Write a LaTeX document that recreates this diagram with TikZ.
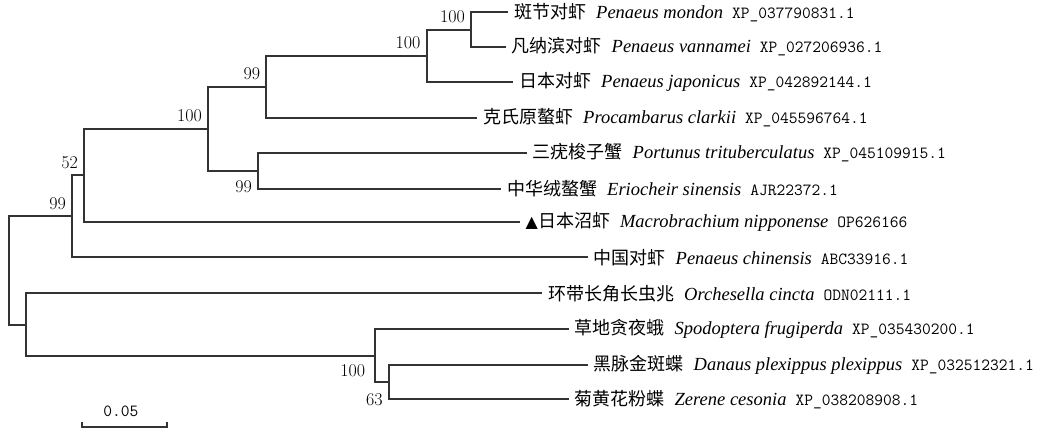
\documentclass[tikz,border=0pt]{standalone}
\usepackage{fontspec}
\usepackage{tikz}
\newfontfamily\cjkfont{Noto Sans CJK SC}
\newfontfamily\latinfont{Liberation Serif}
\newfontfamily\symbfont{DejaVu Sans}
\newcommand{\taxon}[3]{{\cjkfont\fontsize{18}{20}\selectfont #1}\hspace{10pt}%
  {\latinfont\itshape\fontsize{18.5}{20}\selectfont #2}\hspace{9pt}%
  {\ttfamily\fontsize{17}{20}\selectfont #3}}

\begin{document}
\begin{tikzpicture}[x=1pt, y=-1pt,
        branch/.style={line width=2pt, draw=black!80},
        leaf/.style={anchor=west, inner xsep=6pt, inner ysep=0pt},
        boot/.style={anchor=east, inner sep=0pt, font=\fontsize{18}{20}\selectfont},
        boot above/.style={boot, xshift=-6pt, yshift=13pt},
        boot below/.style={boot, xshift=-6pt, yshift=-15pt}]
      \useasboundingbox (0,0) rectangle (1057,429);

      % taxa
      \node[leaf] (mondon)     at (508,12.2)    {\taxon{斑节对虾}{Penaeus mondon}{XP\_037790831.1}};
      \node[leaf] (vannamei)   at (505.5,46.7)  {\taxon{凡纳滨对虾}{Penaeus vannamei}{XP\_027206936.1}};
      \node[leaf] (japonicus)  at (513,81.8)    {\taxon{日本对虾}{Penaeus japonicus}{XP\_042892144.1}};
      \node[leaf] (clarkii)    at (477,118)     {\taxon{克氏原螯虾}{Procambarus clarkii}{XP\_045596764.1}};
      \node[leaf] (portunus)   at (526.5,153)   {\taxon{三疣梭子蟹}{Portunus trituberculatus}{XP\_045109915.1}};
      \node[leaf] (eriocheir)  at (501,189.3)   {\taxon{中华绒螯蟹}{Eriocheir sinensis}{AJR22372.1}};
      \node[leaf] (macro)      at (519.5,221.8) {\taxon{{\symbfont\fontsize{16}{20}\selectfont ▲}日本沼虾}{Macrobrachium nipponense}{OP626166}};
      \node[leaf] (chinensis)  at (587.5,257.3) {\taxon{中国对虾}{Penaeus chinensis}{ABC33916.1}};
      \node[leaf] (orchesella) at (542,293.4)   {\taxon{环带长角长虫兆}{Orchesella cincta}{ODN02111.1}};
      \node[leaf] (spodoptera) at (568.5,329.3) {\taxon{草地贪夜蛾}{Spodoptera frugiperda}{XP\_035430200.1}};
      \node[leaf] (danaus)     at (587.5,364.8) {\taxon{黑脉金斑蝶}{Danaus plexippus plexippus}{XP\_032512321.1}};
      \node[leaf] (zerene)     at (568.5,399.2) {\taxon{菊黄花粉蝶}{Zerene cesonia}{XP\_038208908.1}};

      % internal nodes
      \coordinate (A) at (471,29.5);
      \coordinate (B) at (426.6,55.6);
      \coordinate (C) at (266.4,86.8);
      \coordinate (E) at (258,171.2);
      \coordinate (D) at (208,129);
      \coordinate (F) at (84.2,175.4);
      \coordinate (G) at (72,216.4);
      \coordinate (J) at (388.8,382);
      \coordinate (I) at (375.3,355.7);
      \coordinate (H) at (26.4,324.5);
      \coordinate (R) at (9.1,270.5);

      \path [branch] (A) |- (mondon.west)  (A) |- (vannamei.west)
                 (B) |- (A)  (B) |- (japonicus.west)
                 (C) |- (B)  (C) |- (clarkii.west)
                 (E) |- (portunus.west)  (E) |- (eriocheir.west)
                 (D) |- (C)  (D) |- (E)
                 (F) |- (D)  (F) |- (macro.west)
                 (G) |- (F)  (G) |- (chinensis.west)
                 (J) |- (danaus.west)  (J) |- (zerene.west)
                 (I) |- (spodoptera.west)  (I) |- (J)
                 (H) |- (orchesella.west)  (H) |- (I)
                 (R) |- (G)  (R) |- (H);

      % bootstrap values
      \node[boot above] (bA) at (A) {100};
      \node[boot above] (bB) at (B) {100};
      \node[boot above] (bC) at (C) {99};
      \node[boot above] (bD) at (D) {100};
      \node[boot above] (bF) at (F) {52};
      \node[boot above] (bG) at (G) {99};
      \node[boot below] (bE) at (E) {99};
      \node[boot below, xshift=-4pt] (bI) at (I) {100};
      \node[boot below, yshift=-3pt] (bJ) at (J) {63};

      % scale bar
      \coordinate (barL) at (82,427.3);
      \coordinate (barR) at (166.7,427.3);
      \draw[branch] ([yshift=5pt]barL) -- (barL) -- (barR) -- ([yshift=5pt]barR);
      \node[font=\ttfamily\fontsize{17}{20}\selectfont] (barlabel) at (120.8,411.7) {0.05};
\end{tikzpicture}
\end{document}
